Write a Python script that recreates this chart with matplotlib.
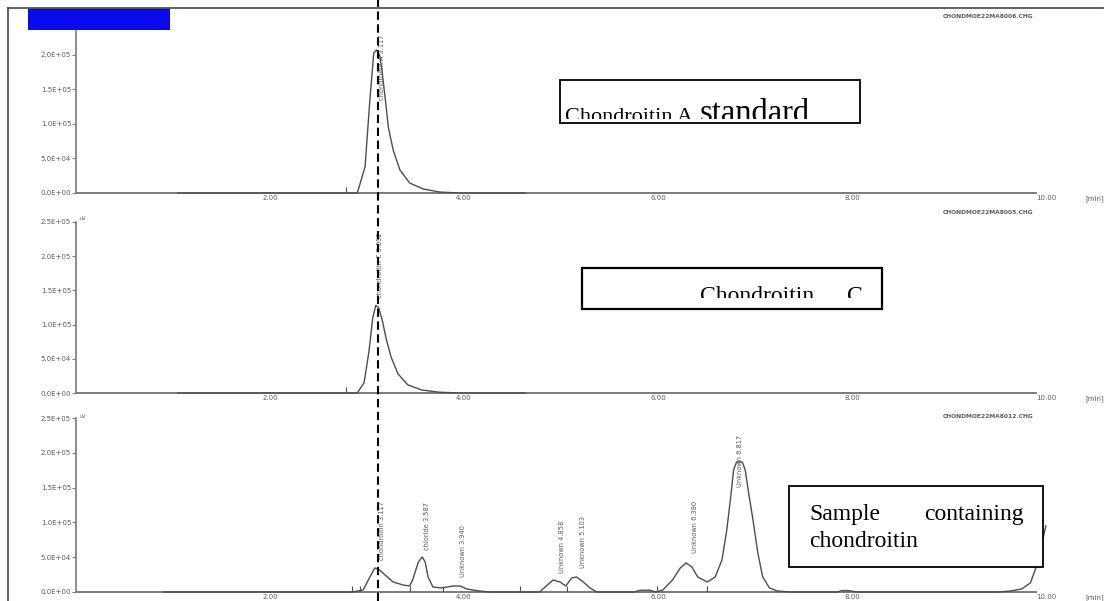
import matplotlib
matplotlib.use("Agg")
import matplotlib.pyplot as plt
from matplotlib.patches import Rectangle
from matplotlib.lines import Line2D
from matplotlib.transforms import blended_transform_factory

# ── data (time in min, signal in uV) ─────────────────────────────────────────
STD_A_T = [1.05, 2.60, 2.90, 2.98, 3.03, 3.07, 3.10, 3.13, 3.15, 3.19, 3.22,
           3.27, 3.34, 3.44, 3.58, 3.75, 3.96, 4.63]
STD_A_S = [0, 0, 0, 37700, 134800, 202900, 207200, 200000, 182600, 134800,
           95600, 62300, 33300, 14500, 5800, 1400, 0, 0]

STD_C_T = [1.05, 2.60, 2.90, 2.97, 3.02, 3.06, 3.09, 3.12, 3.16, 3.20, 3.25,
           3.32, 3.42, 3.56, 3.74, 3.95, 4.63]
STD_C_S = [0, 0, 0, 15000, 60000, 110000, 128000, 125000, 105000, 78000,
           52000, 28000, 12000, 4500, 1200, 0, 0]

SAMPLE_T = [0.90, 2.85, 2.96, 3.03, 3.08, 3.13, 3.21, 3.27, 3.37, 3.44, 3.47,
            3.53, 3.57, 3.60, 3.63, 3.68, 3.77, 3.89, 3.96, 4.03, 4.16, 4.27,
            4.78, 4.86, 4.92, 4.99, 5.05, 5.11, 5.16, 5.23, 5.30, 5.37,
            5.75, 5.82, 5.92, 5.98, 6.05, 6.15, 6.23, 6.29, 6.35, 6.41, 6.51,
            6.59, 6.66, 6.71, 6.75, 6.78, 6.81, 6.87, 6.90, 6.93, 6.98, 7.03,
            7.08, 7.15, 7.23, 7.36, 7.85, 7.90, 7.97, 8.05, 9.50, 9.63, 9.75,
            9.84, 9.90, 9.95, 10.0]
SAMPLE_S = [0, 0, 2900, 21600, 34500, 31600, 21600, 14400, 10100, 8600, 17200,
            43100, 50300, 43100, 21600, 7200, 5800, 8600, 8600, 4300, 1400, 0,
            0, 10100, 17300, 14400, 8600, 20100, 21600, 14400, 5800, 0,
            0, 2500, 2500, 0, 2900, 17200, 34500, 41700, 36000, 21600, 14400,
            21600, 46000, 89100, 136500, 175300, 186800, 186800, 175300, 146600,
            103500, 56000, 21600, 5800, 1400, 0, 0, 2000, 2000, 0, 0, 1400, 4300,
            13000, 36000, 65000, 95000]

# integration marks on the baseline
STD_A_MARKS = [2.78]
STD_C_MARKS = [2.78]
SAMPLE_MARKS = [2.85, 2.93, 3.44, 3.78, 4.58, 5.06, 5.99, 6.51]

# peak labels: text, label x (min), label base (uV)
STD_A_PEAKS = [("chondroitin A 3.117", 3.16, 134800)]
STD_C_PEAKS = [("chondroitin C 3.092", 3.13, 139000)]
SAMPLE_PEAKS = [("chondroitin 3.117", 3.15, 46000),
                ("chloride 3.587", 3.62, 60000),
                ("Unknown 3.940", 3.99, 21600),
                ("Unknown 4.858", 5.01, 27300),
                ("Unknown 5.103", 5.23, 34500),
                ("Unknown 6.380", 6.38, 56000),
                ("Unknown 6.817", 6.85, 151000)]

FILES = ["CHONDMOE22MA8006.CHG", "CHONDMOE22MA8005.CHG", "CHONDMOE22MA8012.CHG"]

X_TICKS = [2, 4, 6, 8, 10]
X_LABELS = ["2.00", "4.00", "6.00", "8.00", "10.00"]
Y_TICKS_A = [0, 5e4, 1e5, 1.5e5, 2e5]
Y_LABELS_A = ["0.0E+00", "5.0E+04", "1.0E+05", "1.5E+05", "2.0E+05"]
Y_TICKS_B = [0, 5e4, 1e5, 1.5e5, 2e5, 2.5e5]
Y_LABELS_B = ["0.0E+00", "5.0E+04", "1.0E+05", "1.5E+05", "2.0E+05", "2.5E+05"]

MARKER_RT = 3.117  # dashed reference line

W, H = 1107, 601
AXIS_C = "#7a7a7a"
TRACE_C = "#4d4d4d"
TEXT_C = "#5a5a5a"


def fx(x):
    return x / W


def fy(y):
    return 1 - y / H


fig = plt.figure(figsize=(W / 100, H / 100), dpi=100)
fig.patch.set_facecolor("white")

# panel geometry in pixels: top, baseline, y max
panels = [
    (8, 193, 268000, STD_A_T, STD_A_S, STD_A_MARKS, STD_A_PEAKS, Y_TICKS_A, Y_LABELS_A, 2.6e5),
    (212, 393, 264600, STD_C_T, STD_C_S, STD_C_MARKS, STD_C_PEAKS, Y_TICKS_B, Y_LABELS_B, 2.5e5),
    (410, 592, 261500, SAMPLE_T, SAMPLE_S, SAMPLE_MARKS, SAMPLE_PEAKS, Y_TICKS_B, Y_LABELS_B, 2.5e5),
]

axes = []
for top, base, ymax, t, s, marks, peaks, yt, yl, spine_top in panels:
    ax = fig.add_axes([fx(76), fy(base), (1075 - 76) / W, (base - top) / H])
    ax.set_xlim(0, 10.3)
    ax.set_ylim(0, ymax)
    ax.patch.set_alpha(0)
    for side in ("top", "right"):
        ax.spines[side].set_visible(False)
    ax.spines["left"].set_color(AXIS_C)
    ax.spines["bottom"].set_color(AXIS_C)
    ax.spines["left"].set_linewidth(1.2)
    ax.spines["bottom"].set_linewidth(1.4)
    ax.spines["left"].set_bounds(0, spine_top)
    ax.spines["bottom"].set_bounds(0, 9.9)

    ax.set_yticks(yt)
    ax.set_yticklabels(yl)
    ax.set_xticks(X_TICKS)
    ax.set_xticklabels(X_LABELS)
    ax.tick_params(axis="y", length=3, width=0.8, color=AXIS_C, pad=0.5,
                   labelsize=5, labelcolor=TEXT_C)
    ax.tick_params(axis="x", length=0, pad=1.2, labelsize=5, labelcolor=TEXT_C)
    ax.annotate("[min]", xy=(10.5, 0), xytext=(0, -1.6), textcoords="offset points",
                ha="center", va="top", fontsize=5, color=TEXT_C, annotation_clip=False)

    ax.plot(t, s, color=TRACE_C, lw=1.0, zorder=3, clip_on=False)
    ax.vlines(marks, 0, 9000, color=TRACE_C, lw=0.8, zorder=3)
    for name, lx, ly in peaks:
        ax.text(lx, ly, name, rotation=90, ha="center", va="bottom",
                fontsize=4.8, color=TEXT_C, zorder=4)
    axes.append(ax)

# ── overlay in pixel coordinates: frame, boxes, annotations ──────────────────
ov = fig.add_axes([0, 0, 1, 1], zorder=10)
ov.set_xlim(0, W)
ov.set_ylim(H, 0)
ov.axis("off")
ov.patch.set_alpha(0)

ov.plot([8, 1103], [8, 8], color="#555", lw=1.3)
ov.plot([8, 8], [8, H], color="#444", lw=1.2)
ov.add_patch(Rectangle((28, 8), 142, 22, facecolor="#0a0aee", edgecolor="none"))

for (ytxt, fname) in zip([17, 213, 417], FILES):
    ov.text(988, ytxt, fname, ha="center", va="center", fontsize=4.3,
            color=TEXT_C, fontweight="bold")
for ytxt in [219, 416]:
    ov.text(80, ytxt, "uV", fontsize=3.5, color=TEXT_C, va="center")

serif = "Liberation Serif"


def clipped(x, y, txt, size, clip):
    t = ov.text(x, y, txt, fontsize=size, family=serif, ha="left",
                va="baseline", color="black", clip_on=True)
    t.set_clip_path(Rectangle((clip[0], clip[1]), clip[2], clip[3],
                              transform=ov.transData))
    return t


# box 1
ov.add_patch(Rectangle((560, 80), 300, 43, facecolor="white", edgecolor="black", lw=1.3))
clipped(565, 122, "Chondroitin A", 16, (561, 81, 298, 38))
clipped(700, 122, "standard", 23.5, (561, 81, 298, 38))

# box 2
ov.add_patch(Rectangle((582, 268), 300, 41, facecolor="white", edgecolor="black", lw=1.6))
clipped(700, 302, "Chondroitin", 17, (583, 269, 298, 29))
clipped(847, 302, "C", 17, (583, 269, 298, 29))

# box 3
ov.add_patch(Rectangle((789, 486), 254, 81, facecolor="white", edgecolor="black", lw=1.3))
ov.text(809, 520, "Sample", fontsize=17, family=serif, va="baseline", ha="left")
ov.text(1024, 520, "containing", fontsize=17, family=serif, va="baseline", ha="right")
ov.text(809, 547, "chondroitin", fontsize=17, family=serif, va="baseline", ha="left")

# dashed line at the chondroitin retention time
trans = blended_transform_factory(axes[2].transData, fig.transFigure)
fig.add_artist(Line2D([MARKER_RT, MARKER_RT], [0, 1], transform=trans,
                      color="black", lw=1.5, linestyle=(0, (4, 2.2)), zorder=20))

fig.savefig("out.png", dpi=100, facecolor="white")
